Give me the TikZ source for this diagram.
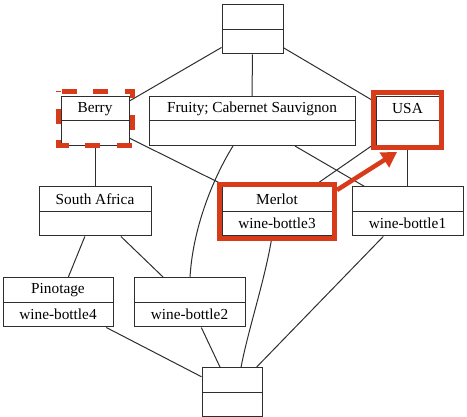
\documentclass[tikz,border=0pt]{standalone}
\usepackage{fontspec}
\setmainfont{Liberation Serif}
\usetikzlibrary{arrows.meta,fit}
\definecolor{edgegray}{HTML}{2E2E2E}
\definecolor{hlred}{HTML}{D83B1A}
\tikzset{
  cell/.style={draw=edgegray, line width=1pt, fill=white, inner sep=0pt,
               minimum height=49pt, minimum width=#1},
  divider/.style={draw=edgegray, line width=1pt},
  txt/.style={inner sep=0pt, font=\fontsize{15.3}{18}\selectfont, text=black},
  link/.style={draw=edgegray, line width=1pt},
  hlbox/.style={draw=hlred, line width=4.3pt, inner sep=2pt},
  hldash/.style={draw=hlred, line width=4.3pt, dash pattern=on 15pt off 16.5pt, dash phase=28.5pt},
  hlarrow/.style={draw=hlred, line width=4.5pt, -{Triangle[length=15pt,width=17pt]}},
}
\begin{document}
\begin{tikzpicture}[x=1pt, y=-1pt]
\useasboundingbox (0,0) rectangle (467,417);

% concept boxes
\node[cell=61pt]  (top)    at (252.5, 29.5) {};
\node[cell=68pt]  (berry)  at (95,   121)   {};
\node[cell=206pt] (fruity) at (252,  121)   {};
\node[cell=63pt]  (usa)    at (407.5,121)   {};
\node[cell=112pt] (sa)     at (95,   211.5) {};
\node[cell=110pt] (merlot) at (277,  211.5) {};
\node[cell=111pt] (wb1)    at (407.5,211.5) {};
\node[cell=110pt] (pino)   at (58,   302.5) {};
\node[cell=111pt] (wb2)    at (189.5,302.5) {};
\node[cell=60pt]  (bot)    at (232,  392.5) {};

% dividers between intent and extent
\foreach \n in {top,berry,fruity,usa,sa,merlot,wb1,pino,wb2,bot}
  \draw[divider] (\n.west) -- (\n.east);

% labels
\node[txt] (berryT)  at ([yshift=12.25pt]berry.center)  {Berry};
\node[txt] (fruityT) at ([yshift=12.25pt]fruity.center) {Fruity; Cabernet Sauvignon};
\node[txt] (usaT)    at ([yshift=12.25pt]usa.center)    {USA};
\node[txt] (saT)     at ([yshift=12.25pt]sa.center)     {South Africa};
\node[txt] (merlotT) at ([yshift=12.25pt]merlot.center) {Merlot};
\node[txt] (merlotB) at ([yshift=-12.25pt]merlot.center) {wine-bottle3};
\node[txt] (wb1B)    at ([yshift=-12.25pt]wb1.center)   {wine-bottle1};
\node[txt] (pinoT)   at ([yshift=12.25pt]pino.center)   {Pinotage};
\node[txt] (pinoB)   at ([yshift=-12.25pt]pino.center)  {wine-bottle4};
\node[txt] (wb2B)    at ([yshift=-12.25pt]wb2.center)   {wine-bottle2};

% lattice edges
\draw[link] (top) -- (berry);
\draw[link] (top) -- (fruity);
\draw[link] (top) -- (usa);
\draw[link] (berry) -- (sa);
\draw[link] (berry) -- (merlot);
\draw[link] (fruity) -- (wb1);
\draw[link] ([xshift=-19pt]fruity.south) .. controls (215,175) and (193,225) .. ([xshift=0.5pt]wb2.north);
\draw[link] (usa) -- (merlot);
\draw[link] (usa) -- (wb1);
\draw[link] (sa) -- (pino);
\draw[link] (sa) -- (wb2);
\draw[link] (pino) -- (bot);
\draw[link] (wb2) -- (bot);
\draw[link] ([xshift=-5pt]merlot.south) .. controls (265,280) and (248,330) .. ([xshift=9pt]bot.north);
\draw[link] (wb1) -- (bot);

% highlights
\draw[hldash] ([xshift=-2pt,yshift=4.5pt]berry.north west) -- ([xshift=3pt,yshift=4.5pt]berry.north east)
  -- ([xshift=3pt,yshift=0.5pt]berry.south east) -- ([xshift=-2pt,yshift=0.5pt]berry.south west) -- cycle;
\node[hlbox, fit=(usa), yshift=1pt, minimum height=55pt] (usaHL) {};
\node[hlbox, fit=(merlot)] (merlotHL) {};
\coordinate (arrS) at (337,190);
\coordinate (arrE) at (397,152);
\draw[hlarrow] (arrS) -- (arrE);
\end{tikzpicture}
\end{document}
